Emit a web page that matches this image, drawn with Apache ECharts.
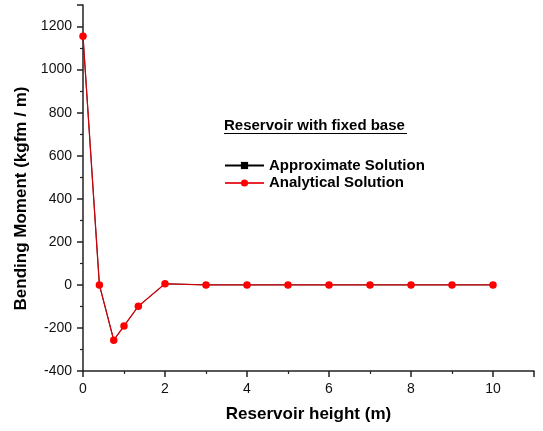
<!DOCTYPE html>
<html><head><meta charset="utf-8">
<script src="https://cdn.jsdelivr.net/npm/echarts@6/dist/echarts.min.js"></script>
<style>html,body{margin:0;padding:0;background:#fff}#c{width:543px;height:431px}</style>
</head><body><div id="c"></div>
<script>
const heights = [0, 0.4, 0.75, 1.0, 1.35, 2, 3, 4, 5, 6, 7, 8, 9, 10];
const approximate = [1155, 0, -257, -191, -99, 5, 0, 0, 0, 0, 0, 0, 0, 0];
const analytical = [1155, 0, -257, -191, -99, 5, 0, 0, 0, 0, 0, 0, 0, 0];
const seriesNames = ['Approximate Solution', 'Analytical Solution'];
const legendTitle = 'Reservoir with fixed base';
const xTitle = 'Reservoir height (m)';
const yTitle = 'Bending Moment (kgfm / m)';

const font = 'Arial, "Liberation Sans", sans-serif';
const chart = echarts.init(document.getElementById('c'));
const axisCommon = {
  axisLine: {show: true, onZero: false, lineStyle: {color: '#222', width: 1.5}},
  axisTick: {show: true, inside: false, length: 6, lineStyle: {color: '#222', width: 1.5}},
  minorTick: {show: true, splitNumber: 2, length: 3, lineStyle: {color: '#222', width: 1.2}},
  splitLine: {show: false}
};
const labelCommon = {color: '#111', fontSize: 14, fontFamily: font, showMaxLabel: false, formatter: v => String(v)};
chart.setOption({
  animation: false,
  backgroundColor: '#fff',
  grid: {left: 83, right: 9, top: 5, bottom: 60},
  xAxis: Object.assign({type: 'value', min: 0, max: 11, interval: 2,
    name: xTitle, nameLocation: 'middle', nameGap: 35,
    nameTextStyle: {fontSize: 17, fontWeight: 'bold', color: '#000', fontFamily: font}}, axisCommon,
    {axisLabel: Object.assign({}, labelCommon, {margin: 11})}),
  yAxis: Object.assign({type: 'value', min: -400, max: 1300, interval: 200}, axisCommon,
    {axisLabel: Object.assign({}, labelCommon, {margin: 11})}),
  legend: {
    orient: 'vertical', left: 219, top: 153, itemWidth: 39, itemHeight: 9, itemGap: 2.5,
    textStyle: {fontSize: 15, fontWeight: 'bold', color: '#000', fontFamily: font},
    data: seriesNames
  },
  graphic: [
    {type: 'text', x: 224, y: 126, style: {text: legendTitle, font: 'bold 15px ' + font, fill: '#000', verticalAlign: 'middle'}},
    {type: 'line', shape: {x1: 224, y1: 133.5, x2: 407, y2: 133.5}, style: {stroke: '#000', lineWidth: 1.2}},
    {type: 'text', x: 21.5, y: 198.5, rotation: Math.PI / 2,
     style: {text: yTitle, font: 'bold 17px ' + font, fill: '#000', align: 'center', verticalAlign: 'middle'}}
  ],
  series: [
    {name: seriesNames[0], type: 'line', data: heights.map((h, i) => [h, approximate[i]]),
     symbol: 'rect', symbolSize: 5, lineStyle: {color: '#000', width: 1}, itemStyle: {color: '#000'}, clip: true},
    {name: seriesNames[1], type: 'line', data: heights.map((h, i) => [h, analytical[i]]),
     symbol: 'circle', symbolSize: 7.5, lineStyle: {color: '#e8000b', width: 1.3, opacity: 0.85}, itemStyle: {color: '#ff0000'}, clip: true}
  ]
});
</script></body></html>
